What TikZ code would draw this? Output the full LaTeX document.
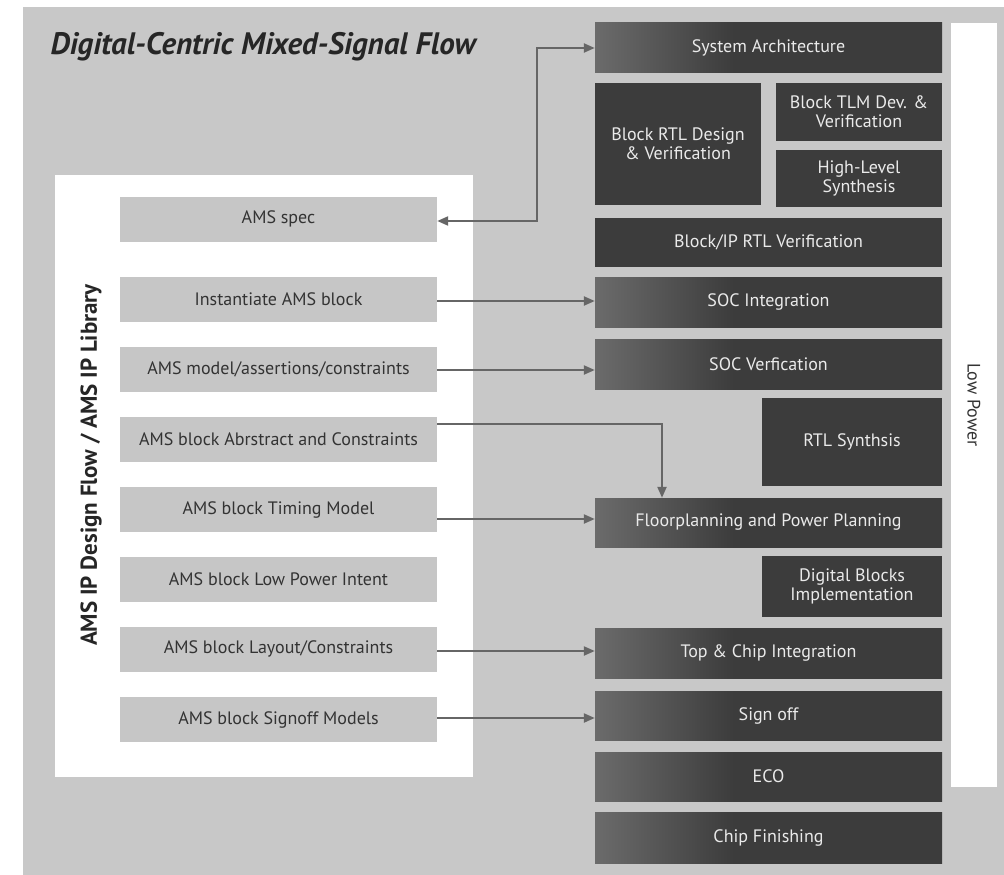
\documentclass[tikz,border=0pt]{standalone}
\usepackage{fontspec}
\setmainfont{PT Sans}
\usetikzlibrary{arrows.meta}
\definecolor{bggray}{HTML}{C8C8C8}
\definecolor{boxgray}{HTML}{C6C6C6}
\definecolor{darkbox}{HTML}{3C3C3C}
\definecolor{shadeL}{HTML}{A6A6A6}
\definecolor{textlight}{HTML}{EAEAEA}
\definecolor{textdark}{HTML}{333333}
\definecolor{arrgray}{HTML}{666666}
\pgfdeclarehorizontalshading{blockshade}{100bp}{color(0bp)=(shadeL); color(45bp)=(darkbox); color(100bp)=(darkbox)}
\begin{document}
\begin{tikzpicture}[x=1pt,y=-1pt,
  lbox/.style={fill=boxgray, draw=none, minimum width=317pt, minimum height=45pt, inner sep=0pt,
     text=textdark, font=\fontsize{18}{20}\selectfont},
  dbox/.style={fill=darkbox, draw=none, inner sep=0pt, text=textlight, align=center,
     font=\fontsize{18}{20}\selectfont},
  gbox/.style={shade, shading=blockshade, draw=none, inner sep=0pt, text=textlight, align=center,
     minimum width=347pt, font=\fontsize{18}{20}\selectfont},
  arr/.style={draw=arrgray, line width=2.2pt, -{Triangle[length=11pt,width=9pt]}},
  arrb/.style={draw=arrgray, line width=2.2pt, {Triangle[length=11pt,width=9pt]}-{Triangle[length=11pt,width=9pt]}}
]
\useasboundingbox (0,0) rectangle (1004,875);
\fill[white] (0,0) rectangle (1004,875);
\fill[bggray] (23,7) rectangle (1004,875);
\fill[white] (55,175) rectangle (473,777);
\fill[white] (951,23) rectangle (997,787);

\node[anchor=west, font=\bfseries\itshape\fontsize{31}{34}\selectfont, text=black!85] (title) at (47,47) {Digital-Centric Mixed-Signal Flow};

\node[rotate=90, font=\bfseries\fontsize{23}{26}\selectfont, text=black!85] (lib) at (91,465) {AMS IP Design Flow / AMS IP Library};
\node[rotate=-90, font=\fontsize{18}{20}\selectfont, text=textdark] (lp) at (974,405) {Low Power};

% left boxes
\node[lbox] (spec) at (278.5,219) {AMS spec};
\node[lbox] (inst) at (278.5,299.5) {Instantiate AMS block};
\node[lbox] (model) at (278.5,369.5) {AMS model/assertions/constraints};
\node[lbox] (abst) at (278.5,439.5) {AMS block Abrstract and Constraints};
\node[lbox] (timing) at (278.5,509.5) {AMS block Timing Model};
\node[lbox] (lpi) at (278.5,579) {AMS block Low Power Intent};
\node[lbox] (layout) at (278.5,649) {AMS block Layout/Constraints};
\node[lbox] (lso) at (278.5,719.5) {AMS block Signoff Models};

% right boxes
\node[gbox, minimum height=50pt] (sysarch) at (768.5,48) {System Architecture};
\node[dbox, minimum width=166pt, minimum height=122pt] (rtl) at (678,144) {Block RTL Design\\[-1pt]\& Verification};
\node[dbox, minimum width=166pt, minimum height=58pt] (tlm) at (859,112) {Block TLM Dev. \&\\[-1pt]Verification};
\node[dbox, minimum width=166pt, minimum height=57pt] (hls) at (859,178.5) {High-Level\\[-1pt]Synthesis};
\node[dbox, minimum width=347pt, minimum height=49pt] (iprtl) at (768.5,242.5) {Block/IP RTL Verification};
\node[gbox, minimum height=50pt] (socint) at (768.5,302) {SOC Integration};
\node[gbox, minimum height=50pt] (socver) at (768.5,364) {SOC Verfication};
\node[dbox, minimum width=180pt, minimum height=88pt] (rtlsyn) at (852,442) {RTL Synthsis};
\node[gbox, minimum height=49pt] (fp) at (768.5,522.5) {Floorplanning and Power Planning};
\node[dbox, minimum width=180pt, minimum height=61pt] (dbi) at (852,586.5) {Digital Blocks\\[-1pt]Implementation};
\node[gbox, minimum height=50pt] (top) at (768.5,653) {Top \& Chip Integration};
\node[gbox, minimum height=49pt] (rso) at (768.5,715.5) {Sign off};
\node[gbox, minimum height=49pt] (eco) at (768.5,776.5) {ECO};
\node[gbox, minimum height=51pt] (chip) at (768.5,837.5) {Chip Finishing};

% connectors
\coordinate (c1) at (537,48);
\coordinate (c2) at (537,221);
\draw[arrb] (spec.east |- c2) -- (c2) -- (c1) -- (sysarch.west);
\draw[arr] (inst.east |- 0,301) -- (socint.west |- 0,301);
\draw[arr] (model.east |- 0,370) -- (socver.west |- 0,370);
\coordinate (c3) at (662,424);
\draw[arr] (abst.east |- c3) -- (c3) -- (fp.north -| c3);
\draw[arr] (timing.east |- 0,519) -- (fp.west |- 0,519);
\draw[arr] (layout.east |- 0,651) -- (top.west |- 0,651);
\draw[arr] (lso.east |- 0,718) -- (rso.west |- 0,718);
\end{tikzpicture}
\end{document}
